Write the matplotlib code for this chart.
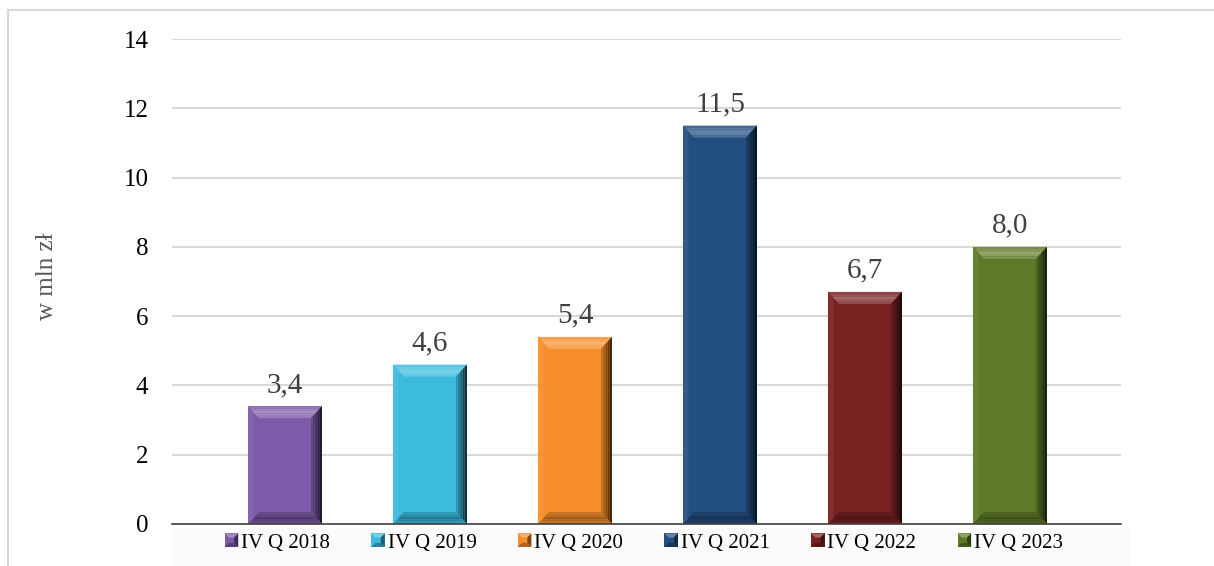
import matplotlib
matplotlib.use("Agg")
import matplotlib.pyplot as plt
from matplotlib.patches import Polygon, Rectangle, Patch
from matplotlib.legend_handler import HandlerPatch
import matplotlib.colors as mcolors
import numpy as np

categories = ["IV Q 2018", "IV Q 2019", "IV Q 2020", "IV Q 2021", "IV Q 2022", "IV Q 2023"]
values = [3.4, 4.6, 5.4, 11.5, 6.7, 8.0]
value_labels = ["3,4", "4,6", "5,4", "11,5", "6,7", "8,0"]
colors = ["#7D5BA8", "#3BBBDE", "#F68E2C", "#234E80", "#782121", "#5E7A28"]
yticks = [0, 2, 4, 6, 8, 10, 12, 14]
ylabel = "w mln zł"

W, H = 1214, 566
fig = plt.figure(figsize=(W / 100, H / 100), dpi=100)
fig.patch.set_facecolor("white")

serif = ["Liberation Serif", "DejaVu Serif"]

# outer border
fig.add_artist(Rectangle((8 / W, -0.05), 1.1, 1 - 10 / H + 0.05, transform=fig.transFigure,
                         fill=False, edgecolor="#D9D9D9", linewidth=1.5))
# faint band behind legend
fig.add_artist(Rectangle((172 / W, 0.0), (1130 - 172) / W, (566 - 528) / H,
                         transform=fig.transFigure, facecolor="#FBFBFB", edgecolor="none", zorder=0))

ax = fig.add_axes([172 / W, 1 - 524 / H, (1121 - 172) / W, (524 - 39) / H])
ax.set_facecolor("none")

x = np.arange(len(categories))
xlim = (-0.779, 5.766)
ax.set_xlim(*xlim)
ax.set_ylim(0, 14)
bw = 0.51

# bevel sizes in data units (derived from axes scaling)
px_x = (xlim[1] - xlim[0]) / (1121 - 172)
px_y = 14 / (524 - 39)
bx = 11 * px_x
by = 12 * px_y


def shade(c, f):
    r, g, b = mcolors.to_rgb(c)
    if f >= 0:
        return (r + (1 - r) * f, g + (1 - g) * f, b + (1 - b) * f)
    f = -f
    return (r * (1 - f), g * (1 - f), b * (1 - f))


bars = ax.bar(x, values, width=bw, color=colors, zorder=3, edgecolor="none")
steps = 5
for xi, v, c in zip(x, values, colors):
    l, r = xi - bw / 2, xi + bw / 2
    # top bevel (lighter, brightest in the middle band)
    for k in range(steps):
        t0 = k / steps
        t1 = (k + 1) / steps
        tm = (t0 + t1) / 2
        f = 0.12 + 0.22 * (1 - abs(tm - 0.55) * 1.8)
        ax.add_patch(Polygon([(l + bx * t0, v - by * t0), (r - bx * t0, v - by * t0),
                              (r - bx * t1, v - by * t1), (l + bx * t1, v - by * t1)],
                             closed=True, facecolor=shade(c, f), edgecolor="none", zorder=4))
    # right bevel (darker towards edge)
    for k in range(steps):
        t0 = k / steps
        t1 = (k + 1) / steps
        f = -0.75 + 0.55 * (k / (steps - 1))
        ax.add_patch(Polygon([(r - bx * t0, v - by * t0), (r - bx * t1, v - by * t1),
                              (r - bx * t1, by * t1), (r - bx * t0, by * t0)],
                             closed=True, facecolor=shade(c, f), edgecolor="none", zorder=4))
    # bottom bevel (darker)
    for k in range(steps):
        t0 = k / steps
        t1 = (k + 1) / steps
        f = -0.15 - 0.2 * (1 - abs((t0 + t1) / 2 - 0.5) * 2)
        ax.add_patch(Polygon([(l + bx * t0, by * t0), (r - bx * t0, by * t0),
                              (r - bx * t1, by * t1), (l + bx * t1, by * t1)],
                             closed=True, facecolor=shade(c, f), edgecolor="none", zorder=4))
    # left bevel (subtle)
    ax.add_patch(Polygon([(l, v), (l + bx * 0.5, v - by * 0.5), (l + bx * 0.5, by * 0.5), (l, 0)],
                         closed=True, facecolor=shade(c, 0.06), edgecolor="none", zorder=4))

for xi, v, lab in zip(x, values, value_labels):
    ax.annotate(lab, (xi, v), xytext=(0, 6), textcoords="offset points",
                ha="center", va="bottom", fontsize=21, family=serif, color="#404040", zorder=5)

ax.set_yticks(yticks)
ax.set_yticklabels([str(t) for t in yticks], fontsize=18, family=serif, color="black")
ax.tick_params(axis="y", length=0, pad=17)
ax.tick_params(axis="x", length=0, labelbottom=False)
ax.grid(axis="y", color="#D9D9D9", linewidth=1.5, zorder=0)
ax.set_axisbelow(True)
for s in ["top", "right", "left"]:
    ax.spines[s].set_visible(False)
ax.spines["bottom"].set_color("#404040")
ax.spines["bottom"].set_linewidth(1.2)
ax.spines["bottom"].set_zorder(6)

fig.text(47 / W, 1 - 276 / H, ylabel, rotation=90, ha="center", va="center",
         fontsize=18, family=serif, color="#595959")


class BevelHandler(HandlerPatch):
    def create_artists(self, legend, orig_handle, xdescent, ydescent, width, height, fontsize, trans):
        c = orig_handle.get_facecolor()
        s = height
        x0 = -xdescent + (width - s) / 2
        y0 = -ydescent
        b = s * 0.3
        arts = []
        arts.append(Rectangle((x0, y0), s, s, facecolor=c, edgecolor="none", transform=trans))
        arts.append(Polygon([(x0, y0 + s), (x0 + s, y0 + s), (x0 + s - b, y0 + s - b), (x0 + b, y0 + s - b)],
                            facecolor=shade(c, 0.3), edgecolor="none", transform=trans))
        arts.append(Polygon([(x0 + s, y0 + s), (x0 + s - b, y0 + s - b), (x0 + s - b, y0 + b), (x0 + s, y0)],
                            facecolor=shade(c, -0.5), edgecolor="none", transform=trans))
        arts.append(Polygon([(x0, y0), (x0 + s, y0), (x0 + s - b, y0 + b), (x0 + b, y0 + b)],
                            facecolor=shade(c, -0.3), edgecolor="none", transform=trans))
        return arts


handles = [Patch(facecolor=c) for c in colors]
leg = fig.legend(handles, categories, loc="center", bbox_to_anchor=(644 / W, 1 - 543 / H),
                 ncol=6, frameon=False, prop={"family": serif, "size": 15},
                 handlelength=0.62, handleheight=0.62, handletextpad=0.15, columnspacing=2.0,
                 handler_map={Patch: BevelHandler()})

fig.savefig("out.png", dpi=100, facecolor="white")
